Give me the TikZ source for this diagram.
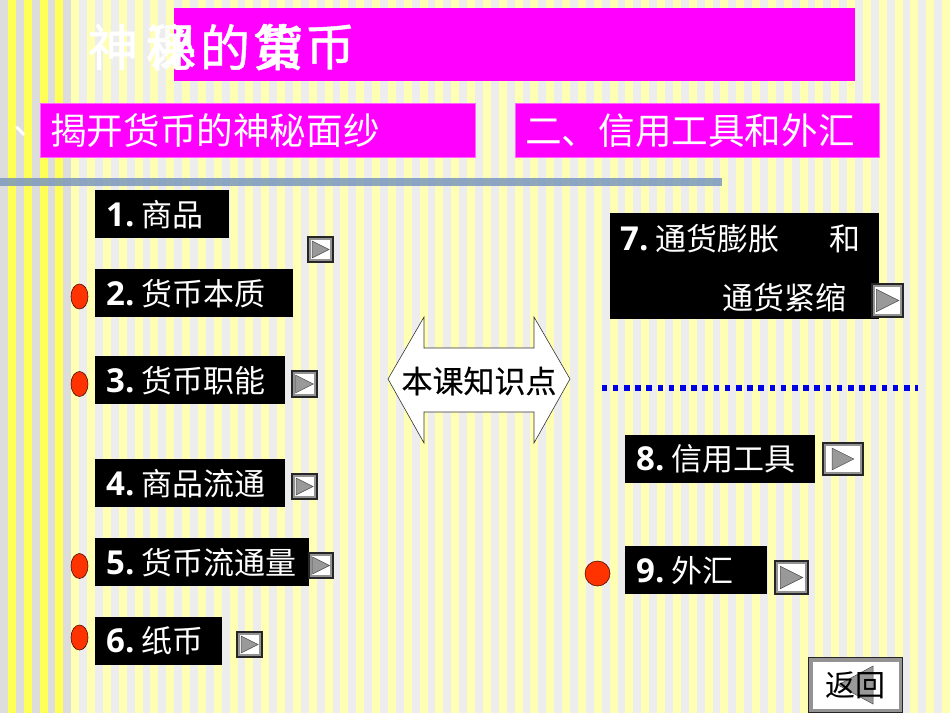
\documentclass[tikz,border=0pt]{standalone}
\usepackage{fontspec}
\setmainfont{Open Sans}
\newfontfamily\cjk{Noto Sans CJK SC}
\newfontfamily\cjkbold[FakeBold=1.0]{Noto Sans CJK SC}
\newfontfamily\cjkmid[FakeBold=0.4]{Noto Sans CJK SC}
\usetikzlibrary{calc,positioning,shapes.geometric}
\definecolor{paleyellow}{HTML}{FFFFB3}
\definecolor{palegray}{HTML}{EDEDED}
\definecolor{strongyellow}{HTML}{FFFF55}
\definecolor{stronggray}{HTML}{DDDDDD}
\definecolor{titlepink}{HTML}{FF00FF}
\definecolor{dotred}{HTML}{FF3300}
\definecolor{barblue}{HTML}{7C98BC}
\newcommand{\numtext}[1]{{\rmfamily\bfseries\fontsize{33}{36}\selectfont #1}\hspace{7pt}}
\tikzset{
  titlechar/.style={text=white,inner sep=0pt,font=\cjkbold\fontsize{50}{50}\selectfont},
  headbox/.style={fill=titlepink,draw=titlepink!60!white,line width=0.6pt,anchor=north west,inner sep=0pt,minimum height=54pt},
  headtext/.style={text=white,inner sep=0pt,anchor=west,font=\cjk\fontsize{36.6}{40}\selectfont},
  itembox/.style={fill=black,anchor=north west,inner xsep=11pt,inner ysep=0pt,minimum height=48pt,
    text=white,align=left,font=\cjk\fontsize{31}{36}\selectfont},
  itemtext/.style={text=white,inner sep=0pt,anchor=west,font=\cjk\fontsize{31}{36}\selectfont},
  reddot/.style={ellipse,fill=dotred,draw=black!70!dotred,line width=0.6pt,inner sep=0pt},
  btnbox/.style={fill=gray!85,draw=black!85,line width=1.1pt,inner sep=0pt},
  btnface/.style={fill=white,draw=none,inner sep=0pt},
  btntip/.style={fill=gray!80,draw=black!70,line width=0.5pt},
}
\begin{document}
\begin{tikzpicture}[x=1pt,y=-1pt]
    \useasboundingbox (0,0) rectangle (950,713);
    % background stripes
    \fill[paleyellow] (0,0) rectangle (950,713);
    \foreach \k in {0,...,59} {
        \pgfmathsetmacro{\xa}{\k*15.8333}
        \fill[palegray] (\xa,0) rectangle ++(7.9167,713);
    }
    \fill[strongyellow] (0,0) rectangle (71.25,713);
    \foreach \k in {0,...,4} {
        \pgfmathsetmacro{\xa}{\k*15.8333}
        \fill[stronggray] (\xa,0) rectangle ++(7.9167,713);
    }
    % title and headings
    \fill[titlepink] (174,8) rectangle (855,81);
    \foreach \ch/\cx [count=\i] in {神/113,秘/171,的/225,货/278,币/330,课/171,第/278}
        \node[titlechar] (title\i) at (\cx,47) {\ch};
    \node[headbox,minimum width=435pt] (headl) at (40,103) {};
    \node[headbox,minimum width=364pt] (headr) at (515,103) {};
    \node[headtext] (headltext) at (50,131) {揭开货币的神秘面纱};
    \node[headtext] (headlmark) at (13,131) {、};
    \node[headtext] (headrtext) at (525,131) {二、信用工具和外汇};
    \fill[barblue,opacity=0.85] (0,178) rectangle (722,186);
    % items
    \foreach \nm/\xa/\ya/\boxw/\numb/\txt in {
        item1/95/190/134/1./商品,
        item2/95/269/198/2./货币本质,
        item3/95/356/190/3./货币职能,
        item4/95/459/190/4./商品流通,
        item5/95/538/214/5./货币流通量,
        item6/95/617/127/6./纸币,
        item8/625/435/190/8./信用工具,
        item9/625/546/142/9./外汇}
        \node[itembox,text width={(\boxw-22)*1pt},minimum width=\boxw pt] (\nm) at (\xa,\ya) {\raisebox{-2pt}{\mbox{\numtext{\numb}\txt}}};
    \node[itembox,text width=247pt,minimum height=106pt] (item7) at (610,213) {};
    \node[itemtext] (item7a) at (620,239) {\numtext{7.}通货膨胀};
    \node[itemtext] (item7b) at (829,239) {和};
    \node[itemtext] (item7c) at (722,298) {通货紧缩};
    % red dots
    \foreach \nm/\cy in {dot2/296.5,dot3/384,dot5/566,dot6/637.5}
        \node[reddot,minimum width=17pt,minimum height=25pt] (\nm) at (79.5,\cy) {};
    \node[reddot,minimum width=25pt,minimum height=25pt] (dot9) at (597.5,573.5) {};
    % link buttons
    \foreach \nm/\xa/\ya/\xb/\yb in {
        btn1/308/237/333/262,
        btn3/292/371/317/397,
        btn4/292/474/317/499,
        btn5/309/553/333/578,
        btn6/237/632/262/657,
        btn7/872/284/903/317,
        btn8/823/443/863/475,
        btn9/775/561/808/594} {
        \pgfmathsetmacro{\bw}{\xb-\xa}
        \pgfmathsetmacro{\bh}{\yb-\ya}
        \pgfmathsetmacro{\tipr}{0.34*\bh}
        \node[btnbox,minimum width=\bw pt,minimum height=\bh pt] (\nm) at ({(\xa+\xb)/2},{(\ya+\yb)/2}) {};
        \node[btnface,minimum width={(\bw-6)*1pt},minimum height={(\bh-6)*1pt}] (\nm face) at (\nm.center) {};
        \draw[btntip] ($(\nm.center)+(-\tipr,-\tipr)$) -- ($(\nm.center)+(\tipr,0)$) -- ($(\nm.center)+(-\tipr,\tipr)$) -- cycle;
    }
    % return button
    \node[btnbox,minimum width=94pt,minimum height=55pt] (back) at (855.5,685) {};
    \node[btnface,minimum width=86pt,minimum height=47pt] (backface) at (back.center) {};
    \draw[btntip] ($(back.center)+(17.5,-19)$) -- ($(back.center)+(-17.5,0)$) -- ($(back.center)+(17.5,19)$) -- cycle;
    \node[inner sep=0pt,font=\cjk\fontsize{30}{30}\selectfont] (backtext) at (back.center) {返回};
    % centre arrow
    \draw[fill=white,draw=black!80,line width=0.6pt] (388,379) -- (424,317) -- (424,348) -- (534,348)
        -- (534,317) -- (570,379) -- (534,443) -- (534,412) -- (424,412) -- (424,443) -- cycle;
    \node[inner sep=0pt,font=\cjkmid\fontsize{31}{31}\selectfont] (lessontext) at (479,381) {本课知识点};
    % dotted rule
    \coordinate (rulel) at (601.5,387.7);
    \coordinate (ruler) at (918,387.7);
    \draw[blue!90!black,line width=5.6pt,dash pattern=on 5.6pt off 5.6pt] (rulel) -- (ruler);
\end{tikzpicture}
\end{document}
